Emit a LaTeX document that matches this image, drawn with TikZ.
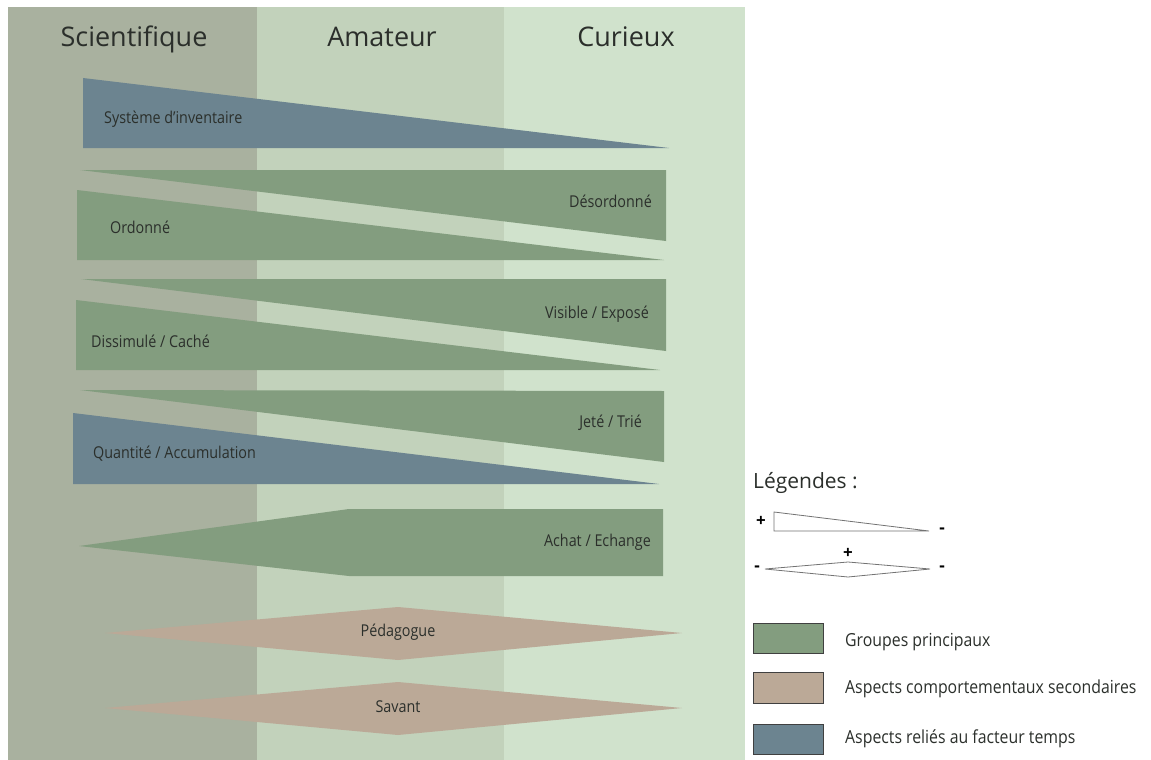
\documentclass[tikz,border=0pt]{standalone}
\usepackage{fontspec}
\setmainfont{Open Sans}
\newfontfamily\lblfont[FakeStretch=0.88]{Open Sans}
\definecolor{colsci}{HTML}{A9B19F}
\definecolor{colama}{HTML}{C2D2BB}
\definecolor{colcur}{HTML}{D0E2CC}
\definecolor{grpgreen}{HTML}{839D7F}
\definecolor{timeblue}{HTML}{6C8490}
\definecolor{sectan}{HTML}{BBA997}
\definecolor{inktext}{HTML}{2B2F2B}
\tikzstyle{head}=[inner sep=0pt, anchor=base, text=inktext, font=\fontsize{27}{30}\selectfont]
\tikzstyle{lbl}=[inner sep=0pt, text=inktext, font=\lblfont\fontsize{16.3}{18}\selectfont]
\tikzstyle{legtext}=[inner sep=0pt, anchor=base west, text=inktext, font=\lblfont\fontsize{18}{20}\selectfont]
\tikzstyle{sign}=[inner sep=0pt, text=black, font=\bfseries\fontsize{17}{18}\selectfont]
\tikzstyle{keybox}=[draw=black!75, line width=0.8pt]
\tikzstyle{keyshape}=[draw=black!55, fill=white, line width=0.8pt]
\newcommand{\lbl}{\node[lbl]}
\newcommand{\sign}{\node[sign]}

\begin{document}
\begin{tikzpicture}[x=1pt, y=-1pt]
            \useasboundingbox (0,0) rectangle (1151,760);
            \fill[colsci] (8,7) rectangle (257,760);
            \fill[colama] (257,7) rectangle (504,760);
            \fill[colcur] (504,7) rectangle (745,760);
            \node[head] (sci) at (134,47) {Scientifique};
            \node[head] (ama) at (382,47) {Amateur};
            \node[head] (cur) at (626,47) {Curieux};

            \fill[timeblue] (83,78) -- (83,148) -- (669,148) -- cycle;
            \fill[grpgreen] (80,170) -- (666,170) -- (666,241) -- cycle;
            \fill[grpgreen] (77,190) -- (77,260) -- (664,260) -- cycle;
            \fill[grpgreen] (81,279) -- (666,279) -- (666,351) -- cycle;
            \fill[grpgreen] (76,300) -- (76,370) -- (660,370) -- cycle;
            \fill[grpgreen] (80,390) -- (664,391) -- (664,462) -- cycle;
            \fill[timeblue] (73,413) -- (73,484) -- (659,484) -- cycle;
            \fill[grpgreen] (79,546) -- (349,509) -- (663,509) -- (663,576) -- (349,576) -- cycle;
            \fill[sectan] (105,633) -- (398,607) -- (682,633) -- (398,660) -- cycle;
            \fill[sectan] (105,708) -- (398,682) -- (682,708) -- (398,735) -- cycle;

            \lbl[anchor=base west] (inv) at (104,123) {Système d’inventaire};
            \lbl[anchor=base east] (desord) at (652,207) {Désordonné};
            \lbl[anchor=base west] (ord) at (110,233) {Ordonné};
            \lbl[anchor=base east] (vis) at (649,318) {Visible / Exposé};
            \lbl[anchor=base west] (diss) at (91,347) {Dissimulé / Caché};
            \lbl[anchor=base east] (jete) at (642,427) {Jeté / Trié};
            \lbl[anchor=base west] (quant) at (93,458) {Quantité / Accumulation};
            \lbl[anchor=base east] (achat) at (651,546) {Achat / Echange};
            \lbl (peda) at (398,632) {Pédagogue};
            \lbl (sav) at (398,707) {Savant};

            \node[inner sep=0pt, anchor=base west, text=inktext, font=\fontsize{21}{24}\selectfont] (leg) at (753,488) {Légendes :};
            \draw[keyshape] (774,512) -- (774,531) -- (929,531) -- cycle;
            \sign (tplus) at (761,521) {+};
            \sign (tminus) at (942,531) {-};
            \draw[keyshape] (765,569) -- (848,562) -- (930,569) -- (848,577) -- cycle;
            \sign (dplus) at (848,553) {+};
            \sign (dminl) at (757,569) {-};
            \sign (dminr) at (942,569) {-};

            \draw[keybox, fill=grpgreen] (753,623) rectangle (823,653);
            \draw[keybox, fill=sectan] (753,672) rectangle (823,703);
            \draw[keybox, fill=timeblue] (753,724) rectangle (823,754);
            \node[legtext] (kgrp) at (845,646) {Groupes principaux};
            \node[legtext] (ksec) at (845,693) {Aspects comportementaux secondaires};
            \node[legtext] (ktime) at (845,743) {Aspects reliés au facteur temps};
\end{tikzpicture}
\end{document}
